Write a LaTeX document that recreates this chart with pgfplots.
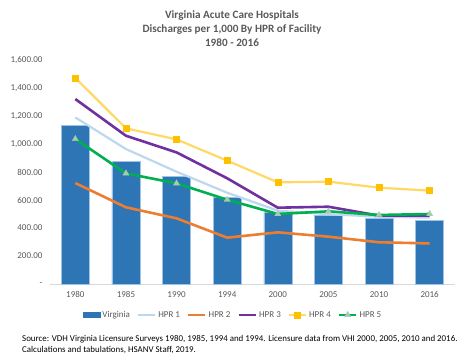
\documentclass[border=0pt]{standalone}
\usepackage{fontspec}
\setmainfont{Carlito}
\usepackage{pgfplots}
\pgfplotsset{compat=1.18}
\definecolor{vabar}{HTML}{2E75B6}
\definecolor{vaedge}{HTML}{9DC3E6}
\definecolor{hpra}{HTML}{BDD7EE}
\definecolor{hprb}{HTML}{ED7D31}
\definecolor{hprc}{HTML}{7030A0}
\definecolor{hprd}{HTML}{FFD966}
\definecolor{hprdm}{HTML}{FFC000}
\definecolor{hpre}{HTML}{00B050}
\definecolor{hprem}{HTML}{A9D18E}
\definecolor{txt}{HTML}{595959}
\definecolor{axisgrey}{HTML}{D9D9D9}
\begin{document}
\begin{tikzpicture}
\path[use as bounding box] (0,0) rectangle (464pt,357pt);
\begin{axis}[
  at={(50pt,73pt)}, anchor=south west,
  scale only axis, width=405pt, height=224pt,
  xmin=-0.5, xmax=7.5, ymin=0, ymax=1600,
  xtick={0,...,7},
  xticklabels={1980,1985,1990,1994,2000,2005,2010,2016},
  ytick={0,200,...,1600},
  yticklabels={{-\hspace{5pt}},{200.00},{400.00},{600.00},{800.00},{1,000.00},{1,200.00},{1,400.00},{1,600.00}},
  /pgf/number format/assume math mode=true,
  tick label style={font=\fontsize{9}{10}\selectfont, text=txt},
  yticklabel style={xshift=-4pt},
  xticklabel style={yshift=-4pt},
  major tick length=0pt,
  axis x line*=bottom, axis y line*=left,
  x axis line style={draw=axisgrey, line width=0.8pt, -},
  y axis line style={draw=none},
  clip=false,
  legend style={draw=none, fill=none, at={(0.452,-0.138)}, anchor=center,
    legend columns=-1, font=\fontsize{9}{10}\selectfont, text=txt,
    /tikz/every even column/.append style={column sep=5pt},
    inner sep=0pt, cells={anchor=west}},
]
\addplot[ybar, bar width=28pt, fill=vabar, draw=vaedge, line width=0.6pt,
  legend image code/.code={\fill[vabar] (0pt,-2.2pt) rectangle (17pt,2.2pt);}]
  coordinates {(0,1133) (1,873) (2,767) (3,617) (4,512) (5,488) (6,469) (7,457)};
\addlegendentry{Virginia}
\addplot[color=hpra, line width=2.2pt]
  coordinates {(0,1190) (1,964) (2,802) (3,652) (4,524) (5,498) (6,481) (7,474)};
\addlegendentry{HPR 1}
\addplot[color=hprb, line width=2.6pt]
  coordinates {(0,721) (1,548) (2,469) (3,331) (4,369) (5,338) (6,298) (7,290)};
\addlegendentry{HPR 2}
\addplot[color=hprc, line width=2.6pt]
  coordinates {(0,1321) (1,1059) (2,940) (3,755) (4,545) (5,552) (6,488) (7,488)};
\addlegendentry{HPR 3}
\addplot[color=hprd, line width=2.2pt, mark=square*, mark size=3pt,
  mark options={fill=hprdm, draw=hprdm, line width=0.4pt}]
  coordinates {(0,1472) (1,1112) (2,1033) (3,881) (4,726) (5,731) (6,688) (7,667)};
\addlegendentry{HPR 4}
\addplot[color=hpre, line width=2.6pt, mark=triangle*, mark size=3.5pt,
  mark options={fill=hprem, draw=vaedge, line width=0.4pt}]
  coordinates {(0,1036) (1,790) (2,719) (3,602) (4,500) (5,519) (6,493) (7,500)};
\addlegendentry{HPR 5}
\end{axis}
\node[font=\bfseries\fontsize{11.2}{14}\selectfont, text=txt, align=center, anchor=north] at (232pt,350pt)
  {Virginia Acute Care Hospitals\\Discharges per 1,000 By HPR of Facility\\1980 - 2016};
\node[font=\fontsize{8.9}{11}\selectfont, align=left, anchor=north west, inner sep=0pt] at (22pt,21.5pt)
  {Source: VDH Virginia Licensure Surveys 1980, 1985, 1994 and 1994. Licensure data from VHI 2000, 2005, 2010 and 2016.\\Calculations and tabulations, HSANV Staff, 2019.};
\end{tikzpicture}
\end{document}
